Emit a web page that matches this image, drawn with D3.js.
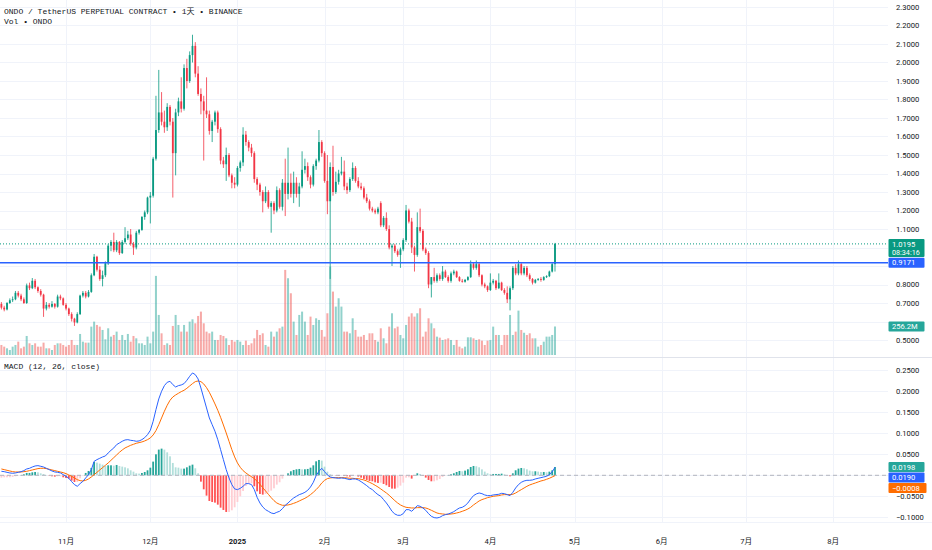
<!DOCTYPE html>
<html>
<head>
<meta charset="utf-8">
<script src="https://cdn.jsdelivr.net/npm/d3@7"></script>
<style>
  body { margin: 0; background: #ffffff; }
  #chart svg { display: block; }
</style>
</head>
<body>
<div id="chart"></div>
<script>
// daily candles, ONDO/USDT perp, starting 2024-10-09
const firstDay = Date.UTC(2024, 9, 9);

const open = [
  0.695, 0.675, 0.665, 0.70, 0.715, 0.72, 0.755, 0.74, 0.72, 0.70,
  0.795, 0.78, 0.82, 0.785, 0.765, 0.745, 0.67, 0.69, 0.68, 0.695,
  0.68, 0.735, 0.725, 0.69, 0.67, 0.64, 0.615, 0.595, 0.64, 0.74,
  0.755, 0.735, 0.76, 0.85, 0.95, 0.88, 0.83, 0.85, 0.915, 1.01,
  1.03, 0.985, 1.03, 0.97, 1.03, 1.05, 1.07, 1.02, 1.00, 1.08,
  1.095, 1.165, 1.19, 1.27, 1.28, 1.48, 1.635, 1.73, 1.68, 1.65,
  1.76, 1.68, 1.51, 1.73, 1.79, 1.75, 1.97, 1.90, 2.04, 2.09,
  1.94, 1.83, 1.79, 1.74, 1.72, 1.63, 1.68, 1.73, 1.64, 1.47,
  1.45, 1.50, 1.39, 1.35, 1.34, 1.43, 1.46, 1.61, 1.57, 1.54,
  1.51, 1.37, 1.34, 1.30, 1.25, 1.30, 1.22, 1.24, 1.20, 1.31,
  1.22, 1.35, 1.29, 1.35, 1.29, 1.35, 1.29, 1.33, 1.42, 1.44,
  1.38, 1.34, 1.44, 1.47, 1.57, 1.51, 1.36, 1.25, 1.435, 1.30,
  1.355, 1.40, 1.41, 1.33, 1.31, 1.37, 1.43, 1.36, 1.33, 1.32,
  1.27, 1.25, 1.21, 1.20, 1.19, 1.24, 1.12, 1.16, 1.10, 1.00,
  1.01, 0.98, 0.96, 0.99, 1.04, 1.20, 1.14, 1.00, 0.96, 1.11,
  1.09, 0.99, 0.97, 0.80, 0.84, 0.82, 0.85, 0.83, 0.87, 0.84,
  0.82, 0.86, 0.87, 0.84, 0.82, 0.815, 0.825, 0.84, 0.91, 0.89,
  0.91, 0.85, 0.80, 0.79, 0.77, 0.81, 0.82, 0.78, 0.81, 0.77,
  0.755, 0.72, 0.78, 0.89, 0.86, 0.91, 0.86, 0.89, 0.85, 0.83,
  0.81, 0.825, 0.83, 0.825, 0.84, 0.845, 0.87, 0.91
];
const high = [
  0.705, 0.685, 0.705, 0.725, 0.735, 0.765, 0.765, 0.75, 0.73, 0.805,
  0.81, 0.835, 0.83, 0.79, 0.775, 0.75, 0.705, 0.70, 0.71, 0.70,
  0.745, 0.745, 0.73, 0.70, 0.675, 0.65, 0.62, 0.65, 0.745, 0.765,
  0.765, 0.77, 0.86, 0.965, 0.955, 0.90, 0.875, 0.925, 1.02, 1.04,
  1.08, 1.04, 1.035, 1.04, 1.11, 1.09, 1.10, 1.03, 1.09, 1.10,
  1.17, 1.20, 1.275, 1.30, 1.49, 1.82, 1.96, 1.84, 1.74, 1.78,
  1.77, 1.70, 1.75, 1.81, 1.92, 1.99, 2.02, 2.06, 2.15, 2.11,
  1.98, 1.86, 1.82, 1.92, 1.74, 1.69, 1.74, 1.74, 1.65, 1.49,
  1.54, 1.51, 1.40, 1.38, 1.44, 1.47, 1.65, 1.63, 1.58, 1.56,
  1.52, 1.38, 1.35, 1.31, 1.33, 1.31, 1.25, 1.25, 1.33, 1.32,
  1.37, 1.48, 1.54, 1.40, 1.41, 1.38, 1.35, 1.52, 1.48, 1.46,
  1.39, 1.45, 1.48, 1.635, 1.58, 1.52, 1.50, 1.46, 1.55, 1.41,
  1.42, 1.49, 1.47, 1.35, 1.38, 1.46, 1.44, 1.38, 1.35, 1.33,
  1.29, 1.26, 1.22, 1.21, 1.22, 1.25, 1.17, 1.19, 1.12, 1.02,
  1.02, 0.99, 1.00, 1.05, 1.23, 1.21, 1.16, 1.01, 1.19, 1.21,
  1.10, 1.00, 0.98, 0.84, 0.89, 0.86, 0.86, 0.90, 0.88, 0.85,
  0.87, 0.88, 0.875, 0.845, 0.83, 0.83, 0.845, 0.93, 0.92, 0.93,
  0.92, 0.855, 0.81, 0.795, 0.86, 0.83, 0.825, 0.86, 0.815, 0.78,
  0.79, 0.79, 0.90, 0.91, 0.93, 0.92, 0.90, 0.90, 0.86, 0.835,
  0.83, 0.835, 0.84, 0.845, 0.85, 0.875, 0.92, 1.025
];
const low = [
  0.665, 0.655, 0.66, 0.695, 0.705, 0.715, 0.73, 0.71, 0.695, 0.695,
  0.77, 0.775, 0.775, 0.755, 0.735, 0.625, 0.66, 0.67, 0.675, 0.67,
  0.675, 0.715, 0.685, 0.66, 0.63, 0.60, 0.576, 0.59, 0.635, 0.73,
  0.725, 0.73, 0.755, 0.845, 0.87, 0.82, 0.79, 0.84, 0.905, 0.98,
  0.975, 0.975, 0.96, 0.965, 1.02, 1.04, 1.01, 0.96, 0.99, 1.07,
  1.09, 1.15, 1.18, 1.13, 1.27, 1.47, 1.62, 1.66, 1.62, 1.63,
  1.66, 1.27, 1.39, 1.71, 1.73, 1.74, 1.86, 1.89, 2.00, 1.92,
  1.82, 1.72, 1.47, 1.70, 1.61, 1.57, 1.66, 1.62, 1.45, 1.43,
  1.36, 1.38, 1.32, 1.32, 1.33, 1.41, 1.44, 1.55, 1.52, 1.49,
  1.35, 1.31, 1.28, 1.19, 1.24, 1.21, 1.08, 1.18, 1.19, 1.21,
  1.20, 1.17, 1.26, 1.27, 1.24, 1.27, 1.22, 1.32, 1.40, 1.36,
  1.32, 1.33, 1.42, 1.46, 1.49, 1.35, 1.18, 0.83, 1.28, 1.29,
  1.34, 1.39, 1.31, 1.29, 1.30, 1.36, 1.35, 1.32, 1.31, 1.26,
  1.24, 1.20, 1.19, 1.18, 1.18, 1.11, 1.11, 1.09, 0.99, 0.90,
  0.97, 0.95, 0.89, 0.98, 1.03, 1.13, 0.97, 0.87, 0.95, 1.08,
  0.98, 0.96, 0.78, 0.73, 0.81, 0.81, 0.82, 0.82, 0.835, 0.81,
  0.81, 0.85, 0.835, 0.815, 0.81, 0.81, 0.82, 0.835, 0.88, 0.88,
  0.84, 0.79, 0.78, 0.76, 0.765, 0.80, 0.77, 0.775, 0.765, 0.745,
  0.70, 0.66, 0.77, 0.85, 0.85, 0.85, 0.85, 0.84, 0.82, 0.80,
  0.805, 0.82, 0.815, 0.82, 0.835, 0.84, 0.865, 0.87
];
const close = [
  0.675, 0.665, 0.70, 0.715, 0.72, 0.755, 0.74, 0.72, 0.70, 0.795,
  0.78, 0.82, 0.785, 0.765, 0.745, 0.67, 0.69, 0.68, 0.695, 0.68,
  0.735, 0.725, 0.69, 0.67, 0.64, 0.615, 0.595, 0.64, 0.74, 0.755,
  0.735, 0.76, 0.85, 0.95, 0.88, 0.83, 0.85, 0.915, 1.01, 1.03,
  0.985, 1.03, 0.97, 1.03, 1.05, 1.07, 1.02, 1.00, 1.08, 1.095,
  1.165, 1.19, 1.27, 1.28, 1.48, 1.635, 1.73, 1.68, 1.65, 1.76,
  1.68, 1.51, 1.73, 1.79, 1.75, 1.97, 1.90, 2.04, 2.09, 1.94,
  1.83, 1.79, 1.74, 1.72, 1.63, 1.68, 1.73, 1.64, 1.47, 1.45,
  1.50, 1.39, 1.35, 1.34, 1.43, 1.46, 1.61, 1.57, 1.54, 1.51,
  1.37, 1.34, 1.30, 1.25, 1.30, 1.22, 1.24, 1.20, 1.31, 1.22,
  1.35, 1.29, 1.35, 1.29, 1.35, 1.29, 1.33, 1.42, 1.44, 1.38,
  1.34, 1.44, 1.47, 1.57, 1.51, 1.36, 1.25, 1.435, 1.30, 1.355,
  1.40, 1.41, 1.33, 1.31, 1.37, 1.43, 1.36, 1.33, 1.32, 1.27,
  1.25, 1.21, 1.20, 1.19, 1.21, 1.12, 1.16, 1.10, 1.00, 1.01,
  0.98, 0.96, 0.99, 1.04, 1.20, 1.14, 1.00, 0.96, 1.11, 1.09,
  0.99, 0.97, 0.80, 0.84, 0.82, 0.85, 0.83, 0.87, 0.84, 0.82,
  0.86, 0.87, 0.84, 0.82, 0.815, 0.825, 0.84, 0.91, 0.89, 0.91,
  0.85, 0.80, 0.79, 0.77, 0.81, 0.82, 0.78, 0.81, 0.77, 0.755,
  0.72, 0.78, 0.89, 0.86, 0.91, 0.86, 0.89, 0.85, 0.83, 0.81,
  0.825, 0.83, 0.825, 0.84, 0.845, 0.87, 0.91, 1.0195
];
// volume in millions
const volume = [
  90, 75, 60, 45, 75, 90, 120, 60, 75, 171,
  105, 90, 105, 75, 75, 111, 60, 60, 45, 90,
  105, 105, 90, 75, 90, 135, 90, 90, 189, 120,
  111, 111, 255, 300, 270, 255, 225, 141, 240, 165,
  180, 210, 135, 180, 135, 189, 120, 171, 150, 105,
  105, 90, 165, 105, 210, 711, 360, 195, 90, 105,
  90, 261, 360, 270, 210, 270, 210, 300, 321, 285,
  351, 390, 285, 210, 195, 210, 135, 135, 180, 171,
  150, 90, 135, 120, 135, 120, 90, 129, 90, 105,
  150, 225, 180, 195, 90, 75, 210, 165, 210, 240,
  255, 765, 690, 555, 300, 180, 360, 390, 300, 180,
  345, 270, 330, 315, 225, 165, 375, 795, 570, 435,
  510, 435, 210, 210, 195, 330, 225, 165, 165, 180,
  135, 195, 195, 135, 120, 240, 150, 105, 255, 375,
  240, 255, 180, 150, 270, 345, 375, 345, 375, 420,
  165, 210, 330, 285, 240, 165, 156, 135, 141, 150,
  135, 90, 135, 75, 60, 75, 159, 159, 150, 135,
  141, 129, 90, 129, 135, 255, 180, 180, 90, 180,
  180, 360, 180, 210, 399, 225, 200, 180, 195, 150,
  150, 75, 90, 120, 165, 165, 180, 256.2
];
const macdLine = [
  0.0095, 0.0087, 0.0071, 0.0056, 0.0048, 0.0056, 0.0071, 0.0087, 0.0111, 0.0151,
  0.0167, 0.0198, 0.0222, 0.0230, 0.0214, 0.0198, 0.0167, 0.0135, 0.0103, 0.0079,
  0.0071, 0.0056, 0.0016, -0.0024, -0.0071, -0.0151, -0.0222, -0.0262, -0.0198, -0.0143,
  -0.0063, 0.0016, 0.0135, 0.0333, 0.0373, 0.0405, 0.0437, 0.0460, 0.0532, 0.0595,
  0.0651, 0.0730, 0.0770, 0.0810, 0.0841, 0.0849, 0.0833, 0.0825, 0.0810, 0.0818,
  0.0849, 0.0897, 0.0968, 0.1071, 0.1286, 0.1564, 0.1818, 0.2000, 0.2135, 0.2214,
  0.2238, 0.2159, 0.2103, 0.2135, 0.2151, 0.2183, 0.2262, 0.2357, 0.2437, 0.2397,
  0.2294, 0.2079, 0.1841, 0.1603, 0.1365, 0.1206, 0.1048, 0.0849, 0.0611, 0.0373,
  0.0135, -0.0063, -0.0222, -0.0325, -0.0341, -0.0310, -0.0262, -0.0198, -0.0198, -0.0222,
  -0.0341, -0.0524, -0.0659, -0.0754, -0.0818, -0.0857, -0.0897, -0.0913, -0.0881, -0.0857,
  -0.0794, -0.0714, -0.0659, -0.0595, -0.0540, -0.0500, -0.0460, -0.0437, -0.0405, -0.0357,
  -0.0278, -0.0167, -0.0008, 0.0095, 0.0167, 0.0087, 0.0008, -0.0040, -0.0056, -0.0063,
  -0.0071, -0.0063, -0.0071, -0.0087, -0.0103, -0.0087, -0.0087, -0.0111, -0.0151, -0.0198,
  -0.0246, -0.0302, -0.0341, -0.0405, -0.0460, -0.0500, -0.0579, -0.0659, -0.0754, -0.0857,
  -0.0921, -0.0952, -0.0952, -0.0913, -0.0818, -0.0818, -0.0857, -0.0794, -0.0722, -0.0738,
  -0.0778, -0.0833, -0.0913, -0.0976, -0.1008, -0.1016, -0.1000, -0.0960, -0.0937, -0.0921,
  -0.0897, -0.0865, -0.0818, -0.0778, -0.0762, -0.0722, -0.0659, -0.0564, -0.0484, -0.0444,
  -0.0421, -0.0437, -0.0468, -0.0484, -0.0484, -0.0468, -0.0460, -0.0452, -0.0429, -0.0437,
  -0.0460, -0.0484, -0.0405, -0.0302, -0.0222, -0.0167, -0.0135, -0.0119, -0.0119, -0.0111,
  -0.0087, -0.0071, -0.0056, -0.0040, -0.0024, 0.0016, 0.0079, 0.0190
];
const signalLine = [
  0.0151, 0.0135, 0.0119, 0.0103, 0.0087, 0.0079, 0.0079, 0.0079, 0.0087, 0.0095,
  0.0111, 0.0127, 0.0143, 0.0159, 0.0167, 0.0167, 0.0159, 0.0143, 0.0127, 0.0111,
  0.0095, 0.0079, 0.0063, 0.0040, 0.0008, -0.0024, -0.0063, -0.0103, -0.0127, -0.0135,
  -0.0119, -0.0087, -0.0040, 0.0016, 0.0071, 0.0127, 0.0183, 0.0238, 0.0294, 0.0357,
  0.0421, 0.0484, 0.0548, 0.0603, 0.0651, 0.0683, 0.0714, 0.0738, 0.0762, 0.0778,
  0.0794, 0.0818, 0.0849, 0.0889, 0.0960, 0.1064, 0.1206, 0.1365, 0.1524, 0.1667,
  0.1786, 0.1865, 0.1913, 0.1953, 0.1992, 0.2024, 0.2072, 0.2127, 0.2183, 0.2230,
  0.2246, 0.2230, 0.2175, 0.2087, 0.1976, 0.1841, 0.1699, 0.1548, 0.1381, 0.1198,
  0.1008, 0.0810, 0.0611, 0.0437, 0.0294, 0.0190, 0.0111, 0.0056, 0.0008, -0.0032,
  -0.0079, -0.0143, -0.0214, -0.0294, -0.0373, -0.0452, -0.0532, -0.0603, -0.0659, -0.0691,
  -0.0714, -0.0714, -0.0706, -0.0691, -0.0667, -0.0643, -0.0611, -0.0579, -0.0548, -0.0508,
  -0.0460, -0.0405, -0.0341, -0.0270, -0.0183, -0.0119, -0.0079, -0.0063, -0.0056, -0.0056,
  -0.0056, -0.0056, -0.0056, -0.0063, -0.0071, -0.0071, -0.0079, -0.0079, -0.0095, -0.0111,
  -0.0135, -0.0167, -0.0198, -0.0238, -0.0278, -0.0325, -0.0373, -0.0421, -0.0476, -0.0540,
  -0.0603, -0.0659, -0.0706, -0.0738, -0.0762, -0.0770, -0.0778, -0.0778, -0.0770, -0.0770,
  -0.0770, -0.0778, -0.0802, -0.0833, -0.0865, -0.0897, -0.0913, -0.0921, -0.0929, -0.0929,
  -0.0921, -0.0913, -0.0897, -0.0881, -0.0857, -0.0833, -0.0802, -0.0762, -0.0706, -0.0659,
  -0.0611, -0.0579, -0.0556, -0.0532, -0.0516, -0.0500, -0.0492, -0.0484, -0.0468, -0.0460,
  -0.0460, -0.0460, -0.0452, -0.0421, -0.0381, -0.0341, -0.0302, -0.0262, -0.0230, -0.0206,
  -0.0183, -0.0159, -0.0135, -0.0119, -0.0095, -0.0071, -0.0040, -0.0008
];
const histogram = [
  -0.0056, -0.0048, -0.0048, -0.0047, -0.0039, -0.0023, -0.0008, 0.0008, 0.0024, 0.0056,
  0.0056, 0.0071, 0.0079, 0.0071, 0.0047, 0.0031, 0.0008, -0.0008, -0.0024, -0.0032,
  -0.0024, -0.0023, -0.0047, -0.0064, -0.0079, -0.0127, -0.0159, -0.0159, -0.0071, -0.0008,
  0.0056, 0.0103, 0.0175, 0.0317, 0.0302, 0.0278, 0.0254, 0.0222, 0.0238, 0.0238,
  0.0230, 0.0246, 0.0222, 0.0207, 0.0190, 0.0166, 0.0119, 0.0087, 0.0048, 0.0040,
  0.0055, 0.0079, 0.0119, 0.0182, 0.0326, 0.0500, 0.0612, 0.0635, 0.0611, 0.0547,
  0.0452, 0.0294, 0.0190, 0.0182, 0.0159, 0.0159, 0.0190, 0.0230, 0.0254, 0.0167,
  0.0048, -0.0151, -0.0334, -0.0484, -0.0611, -0.0635, -0.0651, -0.0699, -0.0770, -0.0825,
  -0.0873, -0.0873, -0.0833, -0.0762, -0.0635, -0.0500, -0.0373, -0.0254, -0.0206, -0.0190,
  -0.0262, -0.0381, -0.0445, -0.0460, -0.0445, -0.0405, -0.0365, -0.0310, -0.0222, -0.0166,
  -0.0080, 0.0000, 0.0047, 0.0096, 0.0127, 0.0143, 0.0151, 0.0142, 0.0143, 0.0151,
  0.0182, 0.0238, 0.0333, 0.0365, 0.0350, 0.0206, 0.0087, 0.0023, 0.0000, -0.0007,
  -0.0015, -0.0007, -0.0015, -0.0024, -0.0032, -0.0016, -0.0008, -0.0032, -0.0056, -0.0087,
  -0.0111, -0.0135, -0.0143, -0.0167, -0.0182, -0.0175, -0.0206, -0.0238, -0.0278, -0.0317,
  -0.0318, -0.0293, -0.0246, -0.0175, -0.0056, -0.0048, -0.0079, -0.0016, 0.0048, 0.0032,
  -0.0008, -0.0055, -0.0111, -0.0143, -0.0143, -0.0119, -0.0087, -0.0039, -0.0008, 0.0008,
  0.0024, 0.0048, 0.0079, 0.0103, 0.0095, 0.0111, 0.0143, 0.0198, 0.0222, 0.0215,
  0.0190, 0.0142, 0.0088, 0.0048, 0.0032, 0.0032, 0.0032, 0.0032, 0.0039, 0.0023,
  0.0000, -0.0024, 0.0047, 0.0119, 0.0159, 0.0174, 0.0167, 0.0143, 0.0111, 0.0095,
  0.0096, 0.0088, 0.0079, 0.0079, 0.0071, 0.0087, 0.0119, 0.0198
];

const monthTicks = ["2024-11-01", "2024-12-01", "2025-01-01", "2025-02-01", "2025-03-01",
  "2025-04-01", "2025-05-01", "2025-06-01", "2025-07-01", "2025-08-01"];
const monthLabels = ["11月", "12月", "2025", "2月", "3月", "4月", "5月", "6月", "7月", "8月"];

const lastPrice = 1.0195;
const countdown = "08:34:16";
const hLine = 0.9171;

const width = 932;
const height = 550;
const plotRight = 888;
const upColor = "#089981";
const downColor = "#f23645";
const gridColor = "#f0f3fa";
const textColor = "#131722";
const axisFont = "Roboto, 'Noto Sans CJK SC', sans-serif";
const monoFont = "'Liberation Mono', 'Noto Sans CJK SC', monospace";

const days = d3.utcDay.range(new Date(firstDay), new Date(firstDay + 86400000 * open.length));

const x = d3.scaleUtc()
    .domain([new Date(firstDay), new Date(Date.UTC(2025, 7, 1))])
    .range([1.4, 833.2]);

const yPrice = d3.scaleLinear().domain([0.5, 2.3]).range([340, 7]);
const yVol = d3.scaleLinear().domain([0, 800]).range([355, 266]);
const yMacd = d3.scaleLinear().domain([-0.1, 0.25]).range([517.3, 370.3]);

const svg = d3.select("#chart")
    .append("svg")
    .attr("width", width)
    .attr("height", height);

svg.append("rect").attr("width", width).attr("height", height).attr("fill", "#fff");

// grid
const grid = svg.append("g");
monthTicks.forEach(function (t) {
    const gx = Math.round(x(new Date(t))) + 0.5;
    grid.append("line").attr("x1", gx).attr("x2", gx).attr("y1", 0).attr("y2", 522)
        .attr("stroke", gridColor);
});
yPrice.ticks(18).forEach(function (t) {
    const gy = Math.round(yPrice(t)) + 0.5;
    grid.append("line").attr("x1", 0).attr("x2", plotRight).attr("y1", gy).attr("y2", gy)
        .attr("stroke", gridColor);
});
yMacd.ticks(7).forEach(function (t) {
    const gy = Math.round(yMacd(t)) + 0.5;
    grid.append("line").attr("x1", 0).attr("x2", plotRight).attr("y1", gy).attr("y2", gy)
        .attr("stroke", gridColor);
});

// pane separators
svg.append("line").attr("x1", 0).attr("x2", width).attr("y1", 357.5).attr("y2", 357.5)
    .attr("stroke", "#e0e3eb");
svg.append("line").attr("x1", 0).attr("x2", width).attr("y1", 522.5).attr("y2", 522.5)
    .attr("stroke", "#f0f3fa");

const idx = d3.range(open.length);
const isUp = (i) => close[i] >= open[i];

// volume
svg.append("g").selectAll("rect").data(idx).enter().append("rect")
    .attr("x", (i) => x(days[i]) - 1)
    .attr("width", 2)
    .attr("y", (i) => yVol(volume[i]))
    .attr("height", (i) => yVol(0) - yVol(volume[i]))
    .attr("fill", (i) => isUp(i) ? "rgba(38,166,154,0.5)" : "rgba(239,83,80,0.5)");

// candles
const candles = svg.append("g");
candles.selectAll("line").data(idx).enter().append("line")
    .attr("x1", (i) => x(days[i]))
    .attr("x2", (i) => x(days[i]))
    .attr("y1", (i) => yPrice(high[i]))
    .attr("y2", (i) => yPrice(low[i]))
    .attr("stroke", (i) => isUp(i) ? upColor : downColor)
    .attr("stroke-width", 0.8);
candles.selectAll("rect").data(idx).enter().append("rect")
    .attr("x", (i) => x(days[i]) - 0.9)
    .attr("width", 1.8)
    .attr("y", (i) => yPrice(Math.max(open[i], close[i])))
    .attr("height", (i) => Math.max(0.8, Math.abs(yPrice(open[i]) - yPrice(close[i]))))
    .attr("fill", (i) => isUp(i) ? upColor : downColor);

// horizontal line drawing and last price line
svg.append("line").attr("x1", 0).attr("x2", plotRight)
    .attr("y1", yPrice(hLine)).attr("y2", yPrice(hLine))
    .attr("stroke", "#2962ff").attr("stroke-width", 1.5);
svg.append("line").attr("x1", 0).attr("x2", plotRight)
    .attr("y1", yPrice(lastPrice)).attr("y2", yPrice(lastPrice))
    .attr("stroke", upColor).attr("stroke-width", 1).attr("stroke-dasharray", "1,2");

// MACD histogram
const histColor = function (i) {
    const h = histogram[i];
    const prev = i > 0 ? histogram[i - 1] : h;
    if (h >= 0) return h >= prev ? "#26a69a" : "#b2dfdb";
    return h < prev ? "#ff5252" : "#ffcdd2";
};
svg.append("g").selectAll("rect").data(idx).enter().append("rect")
    .attr("x", (i) => x(days[i]) - 0.9)
    .attr("width", 1.8)
    .attr("y", (i) => Math.min(yMacd(0), yMacd(histogram[i])))
    .attr("height", (i) => Math.abs(yMacd(histogram[i]) - yMacd(0)))
    .attr("fill", histColor);

svg.append("line").attr("x1", 0).attr("x2", plotRight)
    .attr("y1", yMacd(0)).attr("y2", yMacd(0))
    .attr("stroke", "#b2b5be").attr("stroke-dasharray", "4,3");

const macdPath = d3.line().x((i) => x(days[i])).y((i) => yMacd(macdLine[i]));
const signalPath = d3.line().x((i) => x(days[i])).y((i) => yMacd(signalLine[i]));
svg.append("path").datum(idx).attr("d", signalPath)
    .attr("fill", "none").attr("stroke", "#ff6d00").attr("stroke-width", 1);
svg.append("path").datum(idx).attr("d", macdPath)
    .attr("fill", "none").attr("stroke", "#2962ff").attr("stroke-width", 1);

// axis label boxes: work out where they sit first, so covered tick labels can be skipped
const fmt = d3.format(".4f");
const minus = (s) => s.replace("-", "\u2212");
const n = open.length - 1;

const boxes = [];
const lastY = yPrice(lastPrice);
boxes.push({ y0: lastY - 5, y1: lastY + 13, color: upColor, lines: [fmt(lastPrice), countdown], w: 36 });
const hY = yPrice(hLine);
boxes.push({ y0: hY - 5, y1: hY + 5, color: "#2962ff", lines: [fmt(hLine)], w: 36 });
const vY = yVol(volume[n]);
boxes.push({ y0: vY - 5, y1: vY + 5, color: "#26a69a", lines: [volume[n].toFixed(1) + "M"], w: 36 });

// MACD boxes, stacked so they do not overlap
const macdBoxes = [
    { v: histogram[n], color: "#26a69a" },
    { v: macdLine[n], color: "#2962ff" },
    { v: signalLine[n], color: "#ff6d00" }
].sort((a, b) => yMacd(a.v) - yMacd(b.v));
let prevY = -Infinity;
macdBoxes.forEach(function (b) {
    const yc = Math.max(yMacd(b.v), prevY + 10.5);
    prevY = yc;
    boxes.push({ y0: yc - 5, y1: yc + 5, color: b.color, lines: [minus(fmt(b.v))], w: b.v < 0 ? 38 : 36 });
});

const covered = (ty) => boxes.some((b) => ty + 3 > b.y0 && ty - 3 < b.y1);

// right axis labels
const axisG = svg.append("g").attr("font-family", axisFont).attr("font-size", 7.6).attr("fill", textColor);
yPrice.ticks(18).forEach(function (t) {
    if (covered(yPrice(t))) return;
    axisG.append("text").attr("x", 896).attr("y", yPrice(t)).attr("dy", "0.35em").text(fmt(t));
});
yMacd.ticks(7).forEach(function (t) {
    if (covered(yMacd(t))) return;
    axisG.append("text").attr("x", 896).attr("y", yMacd(t)).attr("dy", "0.35em").text(minus(fmt(t)));
});

boxes.forEach(function (b) {
    svg.append("rect").attr("x", 888.5).attr("y", b.y0).attr("width", b.w).attr("height", b.y1 - b.y0)
        .attr("fill", b.color).attr("rx", 1);
    b.lines.forEach(function (s, k) {
        svg.append("text").attr("x", 892).attr("y", b.y0 + 5 + k * 8.5).attr("dy", "0.35em")
            .attr("font-family", axisFont).attr("font-size", k === 0 ? 7.6 : 7.2).attr("fill", "#fff")
            .text(s);
    });
});

// bottom time axis
monthTicks.forEach(function (t, k) {
    svg.append("text")
        .attr("x", x(new Date(t)))
        .attr("y", 541)
        .attr("dy", "0.35em")
        .attr("text-anchor", "middle")
        .attr("font-family", axisFont)
        .attr("font-size", 7.6)
        .attr("font-weight", monthLabels[k] === "2025" ? "bold" : "normal")
        .attr("fill", textColor)
        .text(monthLabels[k]);
});

// legends
const legend = svg.append("g").attr("font-family", monoFont).attr("font-size", 8).attr("fill", textColor);
legend.append("text").attr("x", 4).attr("y", 13.5).text("ONDO / TetherUS PERPETUAL CONTRACT \u2022 1天 \u2022 BINANCE");
legend.append("text").attr("x", 4).attr("y", 23.5).text("Vol \u2022 ONDO");
legend.append("text").attr("x", 4).attr("y", 369).text("MACD (12, 26, close)");
</script>
</body>
</html>
